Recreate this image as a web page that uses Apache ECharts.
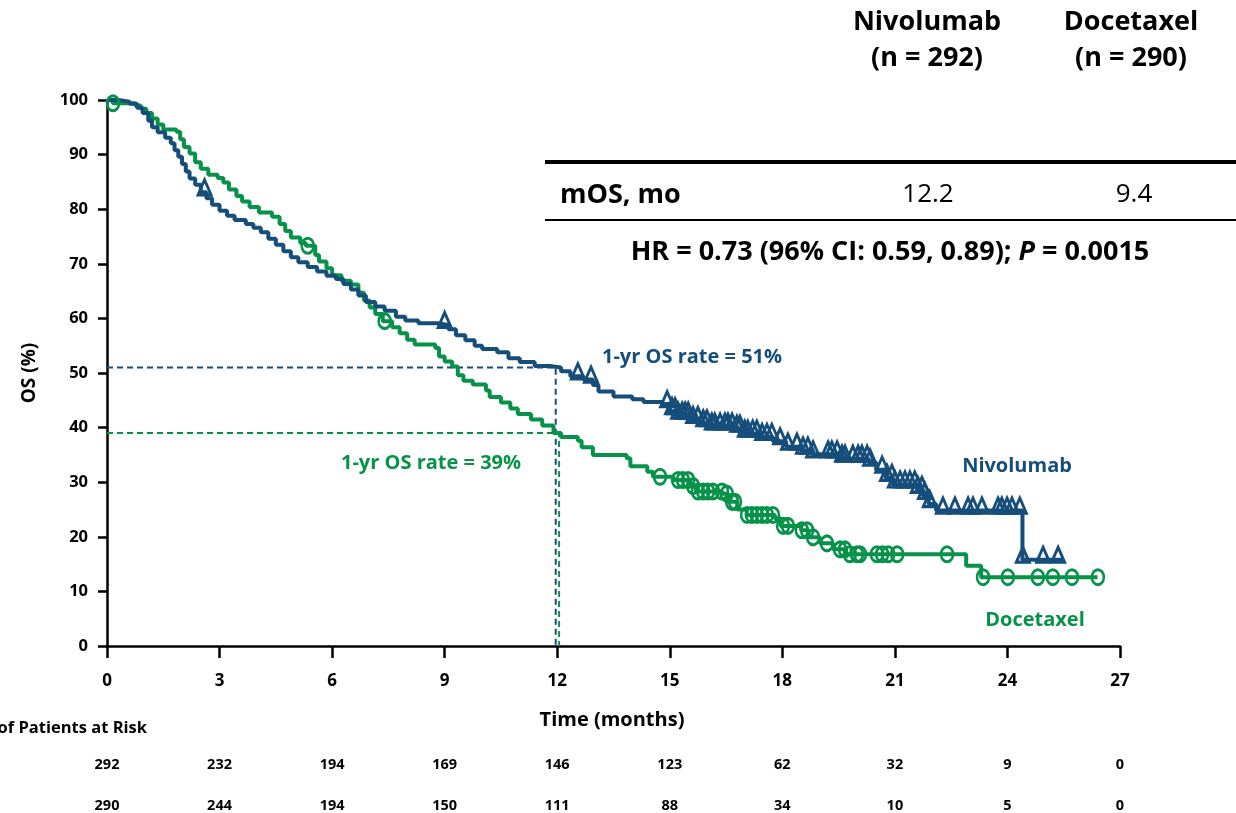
<!DOCTYPE html>
<html>
<head>
<meta charset="utf-8">
<title>Overall survival: Nivolumab vs Docetaxel</title>
<script src="https://cdn.jsdelivr.net/npm/echarts@6/dist/echarts.min.js"></script>
<style>
  html, body { margin: 0; padding: 0; background: #fff; }
  #chart { width: 1236px; height: 813px; }
</style>
</head>
<body>
<div id="chart"></div>
<script>
// Kaplan–Meier step curves: time (months) and OS (%) from that time onward
const nivoTime = [0, 0.3, 0.6, 0.8, 0.95, 1.1, 1.2, 1.35, 1.55, 1.7, 1.8, 1.9, 2.0, 2.1, 2.2, 2.35, 2.5, 2.65, 2.8, 3.0,
  3.2, 3.4, 3.7, 3.9, 4.1, 4.3, 4.5, 4.7, 4.9, 5.1, 5.35, 5.6, 5.85, 6.1, 6.3, 6.5, 6.7, 6.9, 7.15, 7.4,
  7.7, 7.95, 8.3, 8.8, 9.1, 9.3, 9.55, 9.8, 10.0, 10.4, 10.7, 11.0, 11.4, 11.8, 12.1, 12.35, 12.7, 12.95, 13.1, 13.5,
  14.0, 14.3, 14.8, 15.0, 15.15, 15.5, 15.8, 16.0, 16.7, 17.0, 17.4, 17.75, 18.1, 18.5, 18.8, 19.5, 20.3, 20.5, 20.75, 20.95,
  21.6, 21.75, 21.9, 22.1, 24.4, 25.5];
const nivoSurv = [100, 99.7, 99.3, 98.6, 97.6, 96.2, 95.0, 94.1, 93.1, 92.1, 90.8, 89.6, 88.3, 86.9, 85.6, 84.5, 83.1, 82.0, 80.8, 79.7,
  78.8, 78.0, 77.3, 76.6, 75.8, 74.6, 73.5, 72.3, 71.2, 70.3, 69.4, 68.6, 67.8, 67.2, 66.3, 65.3, 64.2, 63.0, 62.2, 61.4,
  60.3, 59.6, 59.1, 58.8, 58.0, 56.9, 56.0, 55.0, 54.4, 53.8, 52.7, 52.0, 51.3, 51.0, 50.3, 49.4, 48.8, 47.8, 46.6, 45.7,
  45.2, 44.7, 44.3, 43.0, 42.2, 41.4, 40.8, 40.2, 39.8, 38.9, 38.3, 37.5, 36.5, 35.8, 35.1, 34.3, 33.6, 32.3, 30.8, 29.6,
  28.6, 27.5, 26.0, 24.8, 15.8, 15.8];

const doceTime = [0, 0.15, 0.75, 0.9, 1.05, 1.2, 1.35, 1.5, 1.85, 1.95, 2.05, 2.2, 2.35, 2.5, 2.7, 2.95, 3.1, 3.25, 3.45, 3.6,
  3.8, 4.05, 4.4, 4.6, 4.75, 4.9, 5.15, 5.3, 5.55, 5.65, 5.85, 6.0, 6.25, 6.5, 6.7, 6.85, 7.0, 7.15, 7.35, 7.6,
  7.8, 8.0, 8.2, 8.75, 8.85, 9.0, 9.2, 9.35, 9.5, 9.75, 10.1, 10.2, 10.5, 10.75, 10.95, 11.3, 11.6, 11.9, 12.1, 12.55,
  12.65, 12.95, 13.85, 13.95, 14.4, 14.55, 15.1, 15.55, 15.7, 16.4, 16.55, 16.8, 17.05, 17.8, 17.95, 18.5, 18.7, 19.0, 19.35, 19.7,
  22.9, 23.3, 26.4];
const doceSurv = [100, 99.4, 99.0, 98.4, 97.6, 96.6, 95.5, 94.6, 94.2, 92.8, 91.4, 90.2, 88.6, 87.4, 86.3, 85.7, 84.9, 83.6, 82.4, 81.4,
  80.4, 79.4, 78.6, 77.3, 76.0, 74.8, 73.8, 73.3, 71.6, 70.4, 69.2, 67.9, 66.9, 66.2, 64.7, 63.3, 62.0, 60.8, 59.5, 58.4,
  57.3, 56.1, 55.2, 54.6, 53.0, 52.1, 51.2, 49.6, 48.6, 47.9, 46.8, 45.6, 44.6, 43.5, 42.5, 41.5, 40.4, 39.0, 38.3, 37.6,
  36.4, 35.0, 34.4, 32.9, 31.9, 31.0, 30.4, 29.3, 28.3, 27.9, 26.4, 25.0, 24.0, 23.4, 22.0, 21.2, 19.9, 18.8, 17.7, 16.8,
  14.7, 12.6, 12.6];

// Censoring times (months)
const nivoCensor = [2.6, 9.0, 12.55, 12.9,
  14.93, 15.06, 15.14, 15.22, 15.33, 15.41, 15.49, 15.62, 15.75, 15.89, 15.99, 16.12, 16.2, 16.34, 16.47, 16.55,
  16.66, 16.79, 16.87, 17.0, 17.08, 17.21, 17.32, 17.46, 17.59, 17.72, 17.94, 18.15, 18.39, 18.55, 18.68, 18.82,
  19.22, 19.32, 19.46, 19.59, 19.67, 19.88, 20.02, 20.12, 20.26, 20.34, 20.66, 20.79, 20.92, 21.0,
  21.14, 21.27, 21.4, 21.53, 21.61, 21.72, 21.8, 21.93, 22.28, 22.6, 22.95, 23.08, 23.32,
  23.75, 23.85, 23.99, 24.12, 24.33, 24.41, 24.95, 25.35];
const doceCensor = [0.16, 5.35, 7.4,
  14.74, 15.22, 15.35, 15.49, 15.62, 15.75, 15.89, 16.02, 16.15, 16.39, 16.52, 16.66, 16.74, 17.06, 17.19, 17.32,
  17.46, 17.59, 17.75, 18.02, 18.15, 18.52, 18.66, 18.82, 19.19, 19.54, 19.67, 19.8, 19.99, 20.07, 20.52, 20.66,
  20.82, 21.06, 22.39, 23.35, 24.01, 24.81, 25.21, 25.72, 26.41];

// Numbers at risk
const riskTimes = [0, 3, 6, 9, 12, 15, 18, 21, 24, 27];
const riskNivo = [292, 232, 194, 169, 146, 123, 62, 32, 9, 0];
const riskDoce = [290, 244, 194, 150, 111, 88, 34, 10, 5, 0];

// 1-year landmark
const landmarkMonth = 12;
const oneYearNivo = 51;
const oneYearDoce = 39;

const BLUE = '#154d7b';
const GREEN = '#07924a';
const FONT = '"Open Sans", Lato, sans-serif';

function pairs(times, surv) { return times.map((t, i) => [t, surv[i]]); }
function survAt(times, surv, t) {
  let v = surv[0];
  for (let i = 0; i < times.length; i++) { if (times[i] <= t) v = surv[i]; else break; }
  return v;
}

const chart = echarts.init(document.getElementById('chart'), null, { renderer: 'canvas' });

chart.setOption({
  animation: false,
  backgroundColor: '#fff',
  grid: { left: 107, right: 116, top: 100, bottom: 167, containLabel: false },
  xAxis: {
    type: 'value', min: 0, max: 27, interval: 3,
    axisLine: { show: true, onZero: false, lineStyle: { color: '#000', width: 2.5 } },
    axisTick: { show: true, length: 12, lineStyle: { color: '#000', width: 2.5 } },
    axisLabel: { color: '#000', fontWeight: 'bold', fontSize: 17, fontFamily: FONT, margin: 27 },
    splitLine: { show: false }
  },
  yAxis: {
    type: 'value', min: 0, max: 100, interval: 10,
    axisLine: { show: true, lineStyle: { color: '#000', width: 2.5 } },
    axisTick: { show: true, length: 9, lineStyle: { color: '#000', width: 2.5 } },
    axisLabel: { color: '#000', fontWeight: 'bold', fontSize: 16.5, fontFamily: FONT, margin: 19 },
    splitLine: { show: false }
  },
  series: [
    {
      name: 'Nivolumab 1-yr', type: 'line', silent: true, symbol: 'none', z: 2,
      lineStyle: { color: BLUE, width: 2, type: [6, 4] },
      data: [[0, oneYearNivo], [landmarkMonth - 0.04, oneYearNivo], [landmarkMonth - 0.04, 0]]
    },
    {
      name: 'Docetaxel 1-yr', type: 'line', silent: true, symbol: 'none', z: 2,
      lineStyle: { color: GREEN, width: 2, type: [6, 4] },
      data: [[0, oneYearDoce], [landmarkMonth + 0.05, oneYearDoce], [landmarkMonth + 0.05, 0]]
    },
    {
      name: 'Docetaxel', type: 'line', step: 'end', showSymbol: false, z: 3,
      lineStyle: { color: GREEN, width: 4 },
      data: pairs(doceTime, doceSurv)
    },
    {
      name: 'Nivolumab', type: 'line', step: 'end', showSymbol: false, z: 4,
      lineStyle: { color: BLUE, width: 4 },
      data: pairs(nivoTime, nivoSurv)
    },
    {
      name: 'Docetaxel censored', type: 'scatter', z: 5,
      symbol: 'circle', symbolSize: [12, 15],
      itemStyle: { color: 'rgba(0,0,0,0)', borderColor: GREEN, borderWidth: 2.8, opacity: 1 },
      data: doceCensor.map(t => [t, survAt(doceTime, doceSurv, t)])
    },
    {
      name: 'Nivolumab censored', type: 'scatter', z: 6,
      symbol: 'triangle', symbolSize: [13, 15], symbolOffset: [0, -5],
      itemStyle: { color: 'rgba(0,0,0,0)', borderColor: BLUE, borderWidth: 3, opacity: 1 },
      data: nivoCensor.map(t => [t, survAt(nivoTime, nivoSurv, t)])
    }
  ]
});

// Text, header table and numbers at risk
const g = [];
function txt(x, y, text, opts) {
  g.push({
    type: 'text', x: x, y: y, silent: true, z: 10,
    style: Object.assign({
      text: text, fill: '#000', fontFamily: FONT, fontWeight: 'bold', fontSize: 15,
      align: 'center', verticalAlign: 'middle'
    }, opts || {})
  });
}
function hline(x1, x2, y, w) {
  g.push({ type: 'line', silent: true, z: 10, shape: { x1: x1, y1: y, x2: x2, y2: y }, style: { stroke: '#000', lineWidth: w } });
}

// header table
txt(927, 22, 'Nivolumab', { fontSize: 27 });
txt(927, 58, '(n = 292)', { fontSize: 27 });
txt(1131, 22, 'Docetaxel', { fontSize: 27 });
txt(1131, 58, '(n = 290)', { fontSize: 27 });
hline(545, 1236, 162, 4);
txt(560, 195, 'mOS, mo', { fontSize: 27, align: 'left' });
txt(928, 195, '12.2', { fontSize: 26, fontWeight: 'normal' });
txt(1134, 195, '9.4', { fontSize: 26, fontWeight: 'normal' });
hline(545, 1236, 220, 2);
g.push({
  type: 'text', x: 890, y: 252, silent: true, z: 10,
  style: {
    text: '{a|HR = 0.73 (96% CI: 0.59, 0.89); }{i|P}{a| = 0.0015}',
    align: 'center', verticalAlign: 'middle',
    rich: {
      a: { fontFamily: FONT, fontWeight: 'bold', fontSize: 27, fill: '#000' },
      i: { fontFamily: FONT, fontWeight: 'bold', fontStyle: 'italic', fontSize: 27, fill: '#000' }
    }
  }
});

// curve labels
txt(1017, 466, 'Nivolumab', { fontSize: 20, fill: BLUE });
txt(1035, 620, 'Docetaxel', { fontSize: 20, fill: GREEN });
txt(692, 357, '1-yr OS rate = 51%', { fontSize: 20, fill: BLUE });
txt(431, 463, '1-yr OS rate = 39%', { fontSize: 20, fill: GREEN });

// axis titles
g.push({
  type: 'text', x: 30, y: 373, rotation: Math.PI / 2, silent: true, z: 10,
  style: { text: 'OS (%)', fill: '#000', fontFamily: FONT, fontWeight: 'bold', fontSize: 19, align: 'center', verticalAlign: 'middle' }
});
txt(612, 720, 'Time (months)', { fontSize: 20 });

// numbers at risk
txt(147, 728, 'No. of Patients at Risk', { fontSize: 16.5, align: 'right' });
riskTimes.forEach((t, i) => {
  const px = chart.convertToPixel({ xAxisIndex: 0 }, t);
  txt(px, 765, String(riskNivo[i]), { fontSize: 14.5 });
  txt(px, 806, String(riskDoce[i]), { fontSize: 14.5 });
});

chart.setOption({ graphic: g });
</script>
</body>
</html>
